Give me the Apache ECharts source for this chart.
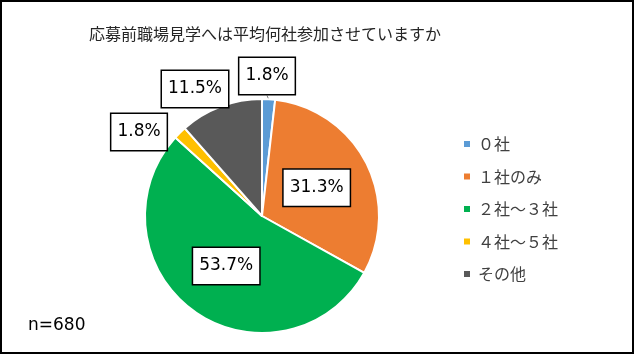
<!DOCTYPE html>
<html>
<head>
<meta charset="utf-8">
<script src="https://cdn.jsdelivr.net/npm/echarts@6/dist/echarts.min.js"></script>
<style>
  html, body { margin: 0; padding: 0; background: #fff; }
  #main { width: 634px; height: 354px; }
</style>
</head>
<body>
<div id="main"></div>
<script>
const mainPage = document.getElementById('main')
var myChart = echarts.init(mainPage)

// data (n=680)
const categories = ['０社', '１社のみ', '２社～３社', '４社～５社', 'その他']
const percents = [1.8, 31.3, 53.7, 1.8, 11.5]
const colors = ['#5B9BD5', '#ED7D31', '#00B050', '#FFC000', '#595959']
const sampleText = 'n=680'

// where each percent label sits (outside labels are moved by labelLayout)
const insideLabel = [false, true, true, false, false]
const outsidePos = {
  0: [267, 76],
  3: [139, 132],
  4: [195, 89]
}

const pieData = categories.map((name, i) => ({
  name: name,
  value: percents[i],
  itemStyle: { color: colors[i] },
  label: { position: insideLabel[i] ? 'inside' : 'outside' },
  labelLine: { show: i === 0, length: 6, length2: 0, lineStyle: { color: '#7f7f7f', width: 1 } }
}))

var option = {
  backgroundColor: '#fff',
  animation: false,
  title: {
    text: '応募前職場見学へは平均何社参加させていますか',
    left: 260,
    top: 21,
    textAlign: 'center',
    textStyle: {
      fontFamily: 'Noto Sans CJK JP',
      fontSize: 16,
      fontWeight: 'normal',
      color: '#262626'
    }
  },
  legend: {
    orient: 'vertical',
    left: 457,
    top: 131,
    itemWidth: 8,
    itemHeight: 8,
    itemGap: 16.5,
    icon: 'rect',
    data: categories,
    textStyle: {
      fontFamily: 'Noto Sans CJK JP',
      fontSize: 16,
      color: '#404040',
      padding: [0, 0, 0, 2]
    }
  },
  graphic: [
    {
      type: 'rect',
      shape: { x: 1, y: 1, width: 632, height: 352 },
      style: { fill: 'none', stroke: '#000', lineWidth: 2 },
      silent: true
    },
    {
      type: 'text',
      left: 28,
      top: 317,
      style: {
        text: sampleText,
        font: '17px "DejaVu Sans"',
        fill: '#000'
      }
    }
  ],
  series: [{
    type: 'pie',
    center: [262, 216],
    radius: 117,
    startAngle: 90,
    clockwise: true,
    data: pieData,
    itemStyle: { borderColor: '#fff', borderWidth: 2 },
    label: {
      show: true,
      formatter: (p) => p.value.toFixed(1) + '%',
      fontFamily: 'DejaVu Sans',
      fontSize: 17,
      color: '#000',
      backgroundColor: '#fff',
      borderColor: '#000',
      borderWidth: 1.5,
      padding: [10, 6, 9, 6]
    },
    labelLayout: (params) => {
      const pos = outsidePos[params.dataIndex]
      if (!pos) return {}
      return { x: pos[0], y: pos[1], align: 'center', verticalAlign: 'middle' }
    }
  }]
}

myChart.setOption(option)
</script>
</body>
</html>
